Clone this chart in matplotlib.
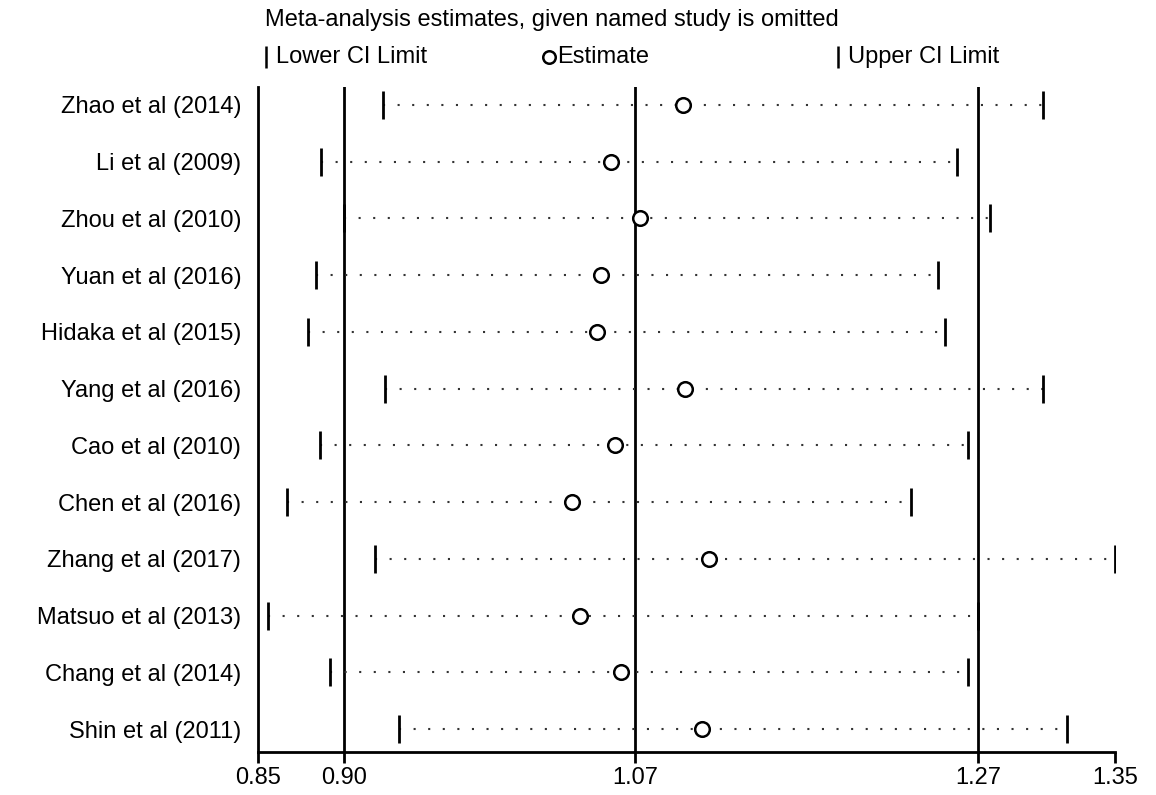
import numpy as np
import matplotlib.pyplot as plt

plt.rcParams['font.family'] = ['Liberation Sans', 'DejaVu Sans']

studies = ['Zhao et al (2014)', 'Li et al (2009)', 'Zhou et al (2010)', 'Yuan et al (2016)',
           'Hidaka et al (2015)', 'Yang et al (2016)', 'Cao et al (2010)', 'Chen et al (2016)',
           'Zhang et al (2017)', 'Matsuo et al (2013)', 'Chang et al (2014)', 'Shin et al (2011)']
estimate = [1.098, 1.056, 1.073, 1.050, 1.048, 1.099, 1.058, 1.033, 1.113, 1.038, 1.062, 1.109]
lower = [0.923, 0.887, 0.900, 0.884, 0.879, 0.924, 0.886, 0.867, 0.918, 0.856, 0.892, 0.932]
upper = [1.308, 1.258, 1.277, 1.247, 1.251, 1.308, 1.264, 1.231, 1.350, 1.270, 1.264, 1.322]
ref_lines = [0.90, 1.07, 1.27]
xticks = [0.85, 0.90, 1.07, 1.27, 1.35]

fs = 17

fig = plt.figure(figsize=(11.56, 7.95), dpi=100)
ax = fig.add_axes([258/1156, 1-752/795, (1115-258)/1156, (752-87)/795])

y = np.arange(len(studies))

for v in ref_lines:
    ax.axvline(v, color='black', lw=2, zorder=1)

# dotted CI lines
ax.hlines(y, lower, upper, colors='#333333', linestyles=(0, (1, 6)), lw=1.5, zorder=2)
ax.plot(lower, y, ls='none', marker='|', ms=20, mew=2, color='black', zorder=3)
ax.plot(upper, y, ls='none', marker='|', ms=20, mew=2, color='black', zorder=3)
ax.plot(estimate, y, ls='none', marker='o', ms=10.5, mfc='white', mec='black', mew=1.8, zorder=4)

ax.set_xlim(0.85, 1.35)
ax.set_ylim(len(studies) - 1 + 0.405, -0.317)
ax.set_xticks(xticks)
ax.set_xticklabels(['%.2f' % t for t in xticks], fontsize=fs)
ax.set_yticks(y)
ax.set_yticklabels(studies, fontsize=fs)
ax.tick_params(axis='y', length=0, pad=12)
ax.tick_params(axis='x', length=8, width=2, pad=3)
for s in ['top', 'right']:
    ax.spines[s].set_visible(False)
for s in ['left', 'bottom']:
    ax.spines[s].set_linewidth(2)

# legend
fig.text(265/1156, 1-20/795, 'Meta-analysis estimates, given named study is omitted',
         fontsize=fs, va='center', ha='left')
ly = 1-57/795
fig.lines.append(plt.Line2D([266/1156], [ly], marker='|', ms=16, mew=1.8, color='black',
                            transform=fig.transFigure))
fig.text(276/1156, ly, 'Lower CI Limit', fontsize=fs, va='center', ha='left')
fig.lines.append(plt.Line2D([549/1156], [ly], marker='o', ms=9, mfc='white', mec='black',
                            mew=1.8, transform=fig.transFigure))
fig.text(557/1156, ly, 'Estimate', fontsize=fs, va='center', ha='left')
fig.lines.append(plt.Line2D([838/1156], [ly], marker='|', ms=16, mew=1.8, color='black',
                            transform=fig.transFigure))
fig.text(848/1156, ly, 'Upper CI Limit', fontsize=fs, va='center', ha='left')

fig.savefig('out.png', dpi=100)
